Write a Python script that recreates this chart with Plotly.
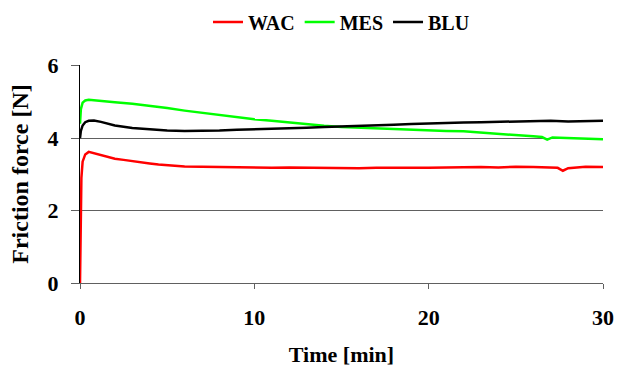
import plotly.graph_objects as go

t_wac = [0, 0.03, 0.08, 0.15, 0.3, 0.5, 0.8, 1.2, 1.6, 2.0, 2.5, 3.0, 3.5, 4.0, 4.5, 5.0, 6.0, 7.0, 8.0, 9.0, 10.0, 11.0, 12.0, 13.0, 14.0, 15.0, 16.0, 17.0, 18.0, 19.0, 20.0, 21.0, 22.0, 23.0, 24.0, 25.0, 26.0, 27.0, 27.4, 27.7, 28.0, 28.5, 29.0, 30.0]
v_wac = [0, 1.6, 2.9, 3.35, 3.55, 3.62, 3.58, 3.52, 3.47, 3.43, 3.40, 3.36, 3.33, 3.30, 3.27, 3.25, 3.22, 3.21, 3.20, 3.19, 3.20, 3.18, 3.19, 3.18, 3.17, 3.18, 3.17, 3.18, 3.19, 3.18, 3.18, 3.19, 3.18, 3.20, 3.19, 3.21, 3.20, 3.20, 3.18, 3.10, 3.17, 3.19, 3.21, 3.20]

t_mes = [0, 0.05, 0.15, 0.3, 0.5, 0.8, 1.2, 2.0, 3.0, 4.0, 5.0, 6.0, 7.0, 8.0, 9.0, 10.0, 11.0, 12.0, 13.0, 14.0, 15.0, 16.0, 17.0, 18.0, 19.0, 20.0, 21.0, 22.0, 23.0, 24.0, 25.0, 26.0, 26.5, 26.8, 27.1, 28.0, 29.0, 30.0]
v_mes = [4.4, 4.8, 4.98, 5.04, 5.06, 5.05, 5.02, 4.99, 4.95, 4.90, 4.83, 4.76, 4.70, 4.63, 4.58, 4.52, 4.48, 4.43, 4.38, 4.34, 4.31, 4.29, 4.27, 4.25, 4.23, 4.22, 4.20, 4.19, 4.16, 4.12, 4.09, 4.05, 4.03, 3.96, 4.02, 4.00, 3.98, 3.97]

t_blu = [0, 0.05, 0.15, 0.3, 0.5, 0.8, 1.2, 1.6, 2.0, 3.0, 4.0, 5.0, 6.0, 7.0, 8.0, 9.0, 10.0, 11.0, 12.0, 13.0, 14.0, 15.0, 16.0, 17.0, 18.0, 19.0, 20.0, 21.0, 22.0, 23.0, 24.0, 25.0, 26.0, 27.0, 28.0, 29.0, 30.0]
v_blu = [4.0, 4.2, 4.35, 4.44, 4.48, 4.49, 4.45, 4.40, 4.35, 4.28, 4.24, 4.21, 4.20, 4.20, 4.21, 4.23, 4.24, 4.26, 4.27, 4.29, 4.31, 4.32, 4.33, 4.35, 4.37, 4.39, 4.41, 4.42, 4.43, 4.44, 4.45, 4.46, 4.47, 4.48, 4.46, 4.47, 4.48]

series = [("WAC", t_wac, v_wac, "#ff0000"),
          ("MES", t_mes, v_mes, "#00ff00"),
          ("BLU", t_blu, v_blu, "#000000")]

ff = "Liberation Serif"

fig = go.Figure()
for name, t, v, c in series:
    fig.add_trace(go.Scatter(x=t, y=v, mode="lines", name=name,
                             line=dict(color=c, width=2.5)))

fig.update_layout(
    width=619, height=368,
    margin=dict(l=80, r=16, t=65, b=85, autoexpand=False),
    paper_bgcolor="white", plot_bgcolor="white",
    font=dict(family=ff, size=20, color="black", weight="bold"),
    showlegend=True,
    legend=dict(orientation="h", x=0.5, xanchor="center", y=1.197, yanchor="middle",
                font=dict(family=ff, size=20, color="black", weight="bold"),
                itemwidth=30, tracegroupgap=0),
)
fig.update_xaxes(range=[0, 30], tickvals=[0, 10, 20, 30], showgrid=False,
                 showline=True, linecolor="#606060", linewidth=1,
                 ticks="outside", ticklen=5, tickcolor="#606060",
                 ticklabelstandoff=10, automargin=False,
                 tickfont=dict(family=ff, size=22, weight="bold"),
                 title=dict(text="Time [min]", font=dict(family=ff, size=22, weight="bold"), standoff=17),
                 zeroline=False)
fig.update_yaxes(range=[0, 6.02], tickvals=[0, 2, 4, 6], showgrid=True,
                 gridcolor="#606060", gridwidth=1,
                 showline=True, linecolor="black", linewidth=1,
                 ticks="outside", ticklen=8, tickcolor="#606060",
                 ticklabelstandoff=8, automargin=False,
                 tickfont=dict(family=ff, size=22, weight="bold"),
                 title=dict(text="Friction force [N]", font=dict(family=ff, size=24, weight="bold"), standoff=12),
                 zeroline=False)

fig.write_html("out.html")
